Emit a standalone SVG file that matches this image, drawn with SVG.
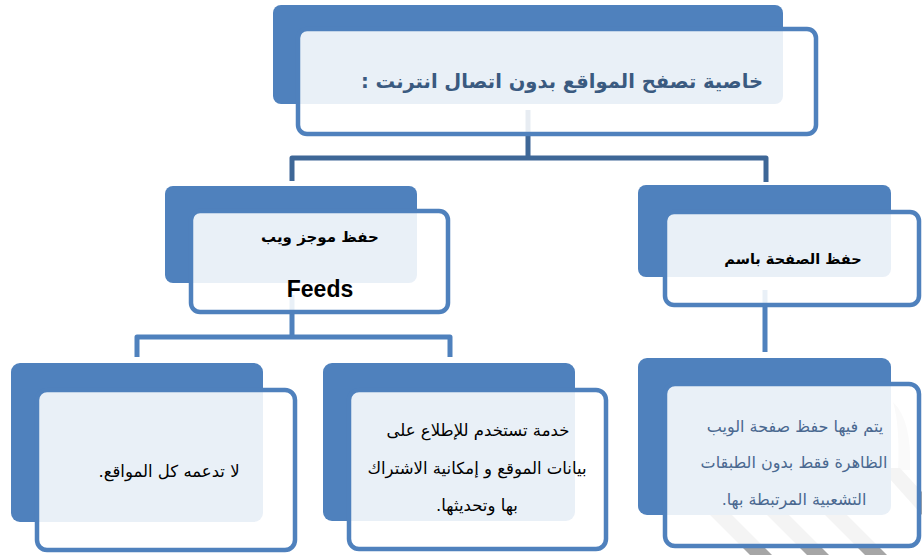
<svg xmlns="http://www.w3.org/2000/svg" width="922" height="555" viewBox="0 0 922 555">
<style>
.back{fill:#4F81BD}
.front{fill:#FFFFFF;fill-opacity:0.88;stroke:#4F81BD;stroke-width:4.5}
.c1{fill:none;stroke:#3E6797;stroke-width:5;stroke-linejoin:round}
.c2{fill:none;stroke:#4F81BD;stroke-width:5;stroke-linejoin:round}
.ar{font-family:"DejaVu Sans",sans-serif;direction:rtl;text-anchor:middle}
.stripe{fill:#A6A6A6}
</style>
<rect width="922" height="555" fill="#FFFFFF"/>
<g id="watermark">
<polygon class="stripe" points="710,515 732,515 772,555 750,555"/>
<polygon class="stripe" points="767,515 789,515 829,555 807,555"/>
<polygon class="stripe" points="825,515 847,515 887,555 865,555"/>
<polygon class="stripe" points="880,468 900,468 922,492 922,515"/>
<path class="stripe" d="M893,402 Q912,420 910,470 L898,470 Q900,425 893,402 Z" opacity="0.5"/>
</g>
<g id="connectors">
<path class="c1" d="M528,110 V158 M292,181 V158 H766 V182"/>
<path class="c2" d="M292,295 V337 M137,357 V337 H450 V357"/>
<path class="c2" d="M765,290 V352"/>
</g>
<g id="title">
<rect class="back" x="273" y="5" width="510" height="99" rx="8"/>
<rect class="front" x="298" y="29" width="518" height="105" rx="9"/>
<text class="ar" x="562" y="88" font-size="19.5" font-weight="bold" fill="#3A5A80">خاصية تصفح المواقع بدون اتصال انترنت :</text>
</g>
<g id="feeds">
<rect class="back" x="165" y="186" width="252" height="97" rx="8"/>
<rect class="front" x="191" y="211" width="257" height="101" rx="9"/>
<text class="ar" x="320" y="242" font-size="15" font-weight="bold" fill="#000">حفظ موجز ويب</text>
<text x="320" y="297" font-family="Liberation Sans, Arial, sans-serif" font-size="23" font-weight="bold" text-anchor="middle" fill="#000">Feeds</text>
</g>
<g id="saveas">
<rect class="back" x="638" y="185" width="253" height="92" rx="8"/>
<rect class="front" x="665" y="212" width="254" height="93" rx="9"/>
<text class="ar" x="793" y="264" font-size="14.5" font-weight="bold" fill="#000">حفظ الصفحة باسم</text>
</g>
<g id="notall">
<rect class="back" x="11" y="363" width="252" height="159" rx="9"/>
<rect class="front" x="37" y="390" width="258" height="160" rx="10"/>
<text class="ar" x="169" y="477" font-size="16.5" fill="#000">لا تدعمه كل المواقع.</text>
</g>
<g id="service">
<rect class="back" x="323" y="363" width="252" height="158" rx="9"/>
<rect class="front" x="349" y="390" width="257" height="159" rx="10"/>
<text class="ar" font-size="16.5" fill="#000"><tspan x="478" y="436">خدمة تستخدم للإطلاع على</tspan><tspan x="477" y="474">بيانات الموقع و إمكانية الاشتراك</tspan><tspan x="477" y="511">بها وتحديثها.</tspan></text>
</g>
<g id="webpage">
<rect class="back" x="638" y="358" width="253" height="157" rx="9"/>
<rect class="front" x="665" y="384" width="254" height="162" rx="10"/>
<text class="ar" font-size="16" fill="#4A6890"><tspan x="795" y="432">يتم فيها حفظ صفحة الويب</tspan><tspan x="794" y="468">الظاهرة فقط بدون الطبقات</tspan><tspan x="794" y="505">التشعبية المرتبطة بها.</tspan></text>
</g>
</svg>
